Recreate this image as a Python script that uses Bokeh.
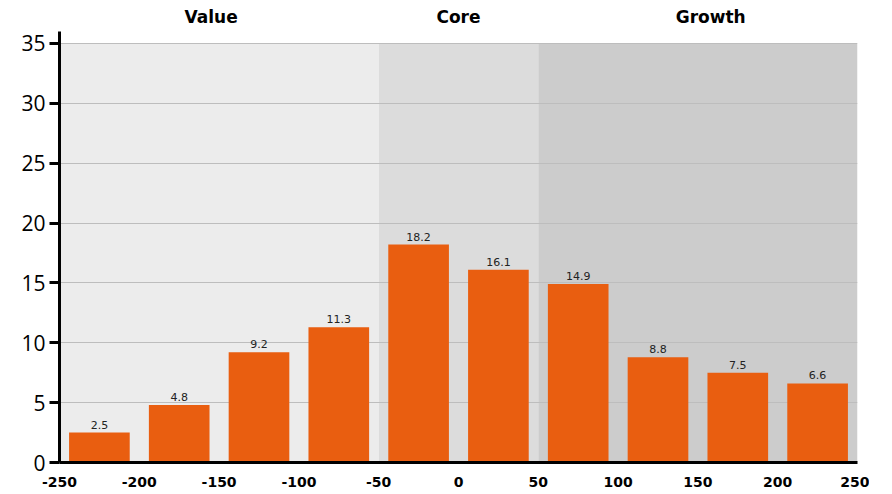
from bokeh.plotting import figure
from bokeh.models import ColumnDataSource, LinearAxis, FixedTicker, Range1d, Grid
from bokeh.core.properties import value
from bokeh.embed import file_html
from bokeh.resources import INLINE

# data
bin_centers = [-225, -175, -125, -75, -25, 25, 75, 125, 175, 225]
values = [2.5, 4.8, 9.2, 11.3, 18.2, 16.1, 14.9, 8.8, 7.5, 6.6]
style_names = ["Value", "Core", "Growth"]
style_left = [-250, -50, 50]
style_right = [-50, 50, 250]
style_label_x = [-155, 0, 158]
style_colors = ["#ececec", "#dcdcdc", "#cccccc"]
x_ticks = [-250, -200, -150, -100, -50, 0, 50, 100, 150, 200, 250]
y_ticks = [0, 5, 10, 15, 20, 25, 30, 35]
y_top = 35

FONT = "DejaVu Sans"

p = figure(frame_width=798, frame_height=431, output_backend="svg", toolbar_location=None,
           x_range=Range1d(-250, 250), y_range=Range1d(0, 36),
           min_border_left=59, min_border_top=31, min_border_right=12, min_border_bottom=10,
           x_axis_location=None, y_axis_location=None)
p.grid.visible = False
p.outline_line_color = None
p.background_fill_color = "white"

bands = ColumnDataSource(dict(left=style_left, right=style_right,
                              top=[y_top] * 3, bottom=[0] * 3, color=style_colors))
p.quad(left="left", right="right", top="top", bottom="bottom", fill_color="color",
       line_color=None, source=bands, level="image")

src = ColumnDataSource(dict(x=bin_centers, top=values, lab=[f"{v:.1f}" for v in values]))
p.vbar(x="x", top="top", width=38, bottom=0, fill_color="#e95e10", line_color=None, source=src)
p.text(x="x", y="top", text="lab", source=src, text_align="center", text_baseline="bottom",
       y_offset=-4, text_font_size="11px", text_color="#222222", text_font=value(FONT))

# axes
yax = LinearAxis(ticker=FixedTicker(ticks=y_ticks))
yax.axis_line_width = 3
yax.axis_line_color = "black"
yax.major_tick_line_width = 3
yax.major_tick_line_color = "black"
yax.major_tick_out = 10
yax.major_tick_in = 0
yax.minor_tick_line_color = None
yax.major_label_text_font = "Open Sans"
yax.major_label_text_font_size = "21px"
yax.major_label_text_color = "black"
yax.major_label_standoff = 4
p.add_layout(yax, "left")

xax = LinearAxis(ticker=FixedTicker(ticks=x_ticks))
xax.major_label_overrides = {t: str(t) for t in x_ticks}
xax.axis_line_width = 3
xax.axis_line_color = "black"
xax.major_tick_line_color = None
xax.minor_tick_line_color = None
xax.major_tick_out = 0
xax.major_tick_in = 0
xax.major_label_text_font = FONT
xax.major_label_text_font_size = "14px"
xax.major_label_text_font_style = "bold"
xax.major_label_text_color = "black"
xax.major_label_standoff = 14
p.add_layout(xax, "below")

tax = LinearAxis(ticker=FixedTicker(ticks=style_label_x))
tax.major_label_overrides = {x: n for x, n in zip(style_label_x, style_names)}
tax.axis_line_color = None
tax.major_tick_line_color = None
tax.minor_tick_line_color = None
tax.major_tick_out = 0
tax.major_tick_in = 0
tax.major_label_text_font = FONT
tax.major_label_text_font_size = "17px"
tax.major_label_text_font_style = "bold"
tax.major_label_text_color = "black"
tax.major_label_standoff = 5
p.add_layout(tax, "above")

p.add_layout(Grid(dimension=1, ticker=FixedTicker(ticks=y_ticks), grid_line_color="#bdbdbd",
                  grid_line_width=1))

open("out.html", "w").write(file_html(p, INLINE))
